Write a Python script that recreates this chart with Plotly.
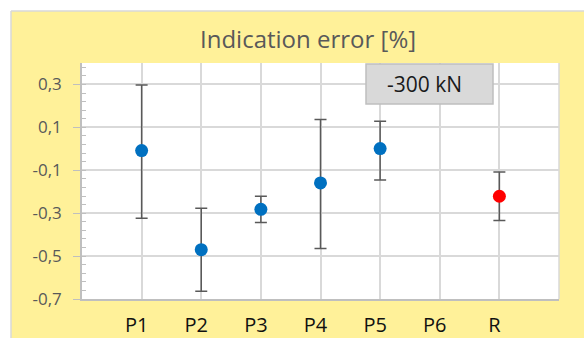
import plotly.graph_objects as go

# ---- data ----
categories = ["P1", "P2", "P3", "P4", "P5", "P6", "R"]
positions = [1, 2, 3, 4, 5, 6, 7]
values = [-0.008, -0.470, -0.282, -0.159, 0.001, None, -0.221]
err_plus = [0.305, 0.193, 0.061, 0.296, 0.127, None, 0.113]
err_minus = [0.316, 0.194, 0.061, 0.306, 0.146, None, 0.113]
point_colors = ["#0070c0", "#0070c0", "#0070c0", "#0070c0", "#0070c0", "#0070c0", "#ff0000"]

y_tickvals = [-0.7, -0.5, -0.3, -0.1, 0.1, 0.3]
y_ticktext = ["-0,7", "-0,5", "-0,3", "-0,1", "0,1", "0,3"]

title_text = "Indication error [%]"
box_text = "-300 kN"

# ---- layout geometry (pixels) ----
W, H = 584, 338
L, R, T, B = 82, 25, 63, 39
pw, ph = W - L - R, H - T - B


def px_x(x):
    return (x - L) / pw


def px_y(y):
    return (H - B - y) / ph


YELLOW = "#fff199"

fig = go.Figure()
fig.add_trace(go.Scatter(
    x=positions, y=values, mode="markers",
    marker=dict(color=point_colors, size=13, line=dict(width=0)),
    error_y=dict(type="data", symmetric=False, array=err_plus, arrayminus=err_minus,
                 color="#595959", thickness=1.5, width=6),
    showlegend=False, hoverinfo="skip",
))

shapes = [
    # white strips outside the chart area
    dict(type="rect", xref="paper", yref="paper", x0=-0.3, x1=1.2, y0=px_y(11), y1=1.5,
         fillcolor="white", line=dict(width=0), layer="above"),
    dict(type="rect", xref="paper", yref="paper", x0=-0.3, x1=px_x(11), y0=-0.5, y1=1.5,
         fillcolor="white", line=dict(width=0), layer="above"),
    # chart area border
    dict(type="line", xref="paper", yref="paper", x0=px_x(11), x1=px_x(11), y0=-0.5, y1=px_y(11),
         line=dict(color="#d9d9d9", width=1.5)),
    dict(type="line", xref="paper", yref="paper", x0=px_x(11), x1=1.2, y0=px_y(11), y1=px_y(11),
         line=dict(color="#d9d9d9", width=1.5)),
    # plot area right border
    dict(type="line", xref="paper", yref="paper", x0=1, x1=1, y0=0, y1=1,
         line=dict(color="#d9d9d9", width=1.5)),
    # label box
    dict(type="rect", xref="paper", yref="paper", x0=px_x(366), x1=px_x(493), y0=px_y(104), y1=px_y(64),
         fillcolor="#d9d9d9", line=dict(color="#bfbfbf", width=1.5)),
]

annotations = [
    dict(text=title_text, xref="paper", yref="paper", x=px_x(308), y=px_y(38),
         xanchor="center", yanchor="middle", showarrow=False,
         font=dict(family="Open Sans", size=24, color="#595959")),
    dict(text=box_text, xref="paper", yref="paper", x=px_x(424), y=px_y(84),
         xanchor="center", yanchor="middle", showarrow=False,
         font=dict(family="Open Sans", size=21, color="#1a1a1a")),
]

fig.update_layout(
    width=W, height=H, autosize=False,
    margin=dict(l=L, r=R, t=T, b=B, pad=0),
    paper_bgcolor=YELLOW, plot_bgcolor="white",
    shapes=shapes, annotations=annotations,
    xaxis=dict(
        range=[0, 8], tickmode="array", tickvals=positions, ticktext=categories,
        showgrid=True, gridcolor="#d9d9d9", gridwidth=1.5,
        showline=True, linecolor="#bfbfbf", linewidth=1.5,
        ticks="", ticklabelshift=-5, ticklabelstandoff=7,
        tickfont=dict(family="Open Sans", size=20, color="#111111"),
        zeroline=False, fixedrange=True, automargin=False,
    ),
    yaxis=dict(
        range=[-0.7, 0.4], tickmode="array", tickvals=y_tickvals, ticktext=y_ticktext,
        showgrid=True, gridcolor="#d9d9d9", gridwidth=1.5,
        showline=True, linecolor="#bfbfbf", linewidth=1.5,
        ticks="outside", ticklen=7, tickcolor="#bfbfbf", tickwidth=1.2,
        minor=dict(ticks="inside", dtick=0.04, tick0=-0.7, ticklen=4,
                   tickcolor="#bfbfbf", tickwidth=1, showgrid=False),
        ticklabelstandoff=8,
        tickfont=dict(family="Open Sans", size=17, color="#595959"),
        zeroline=False, fixedrange=True, automargin=False,
    ),
)

fig.write_html("out.html")
